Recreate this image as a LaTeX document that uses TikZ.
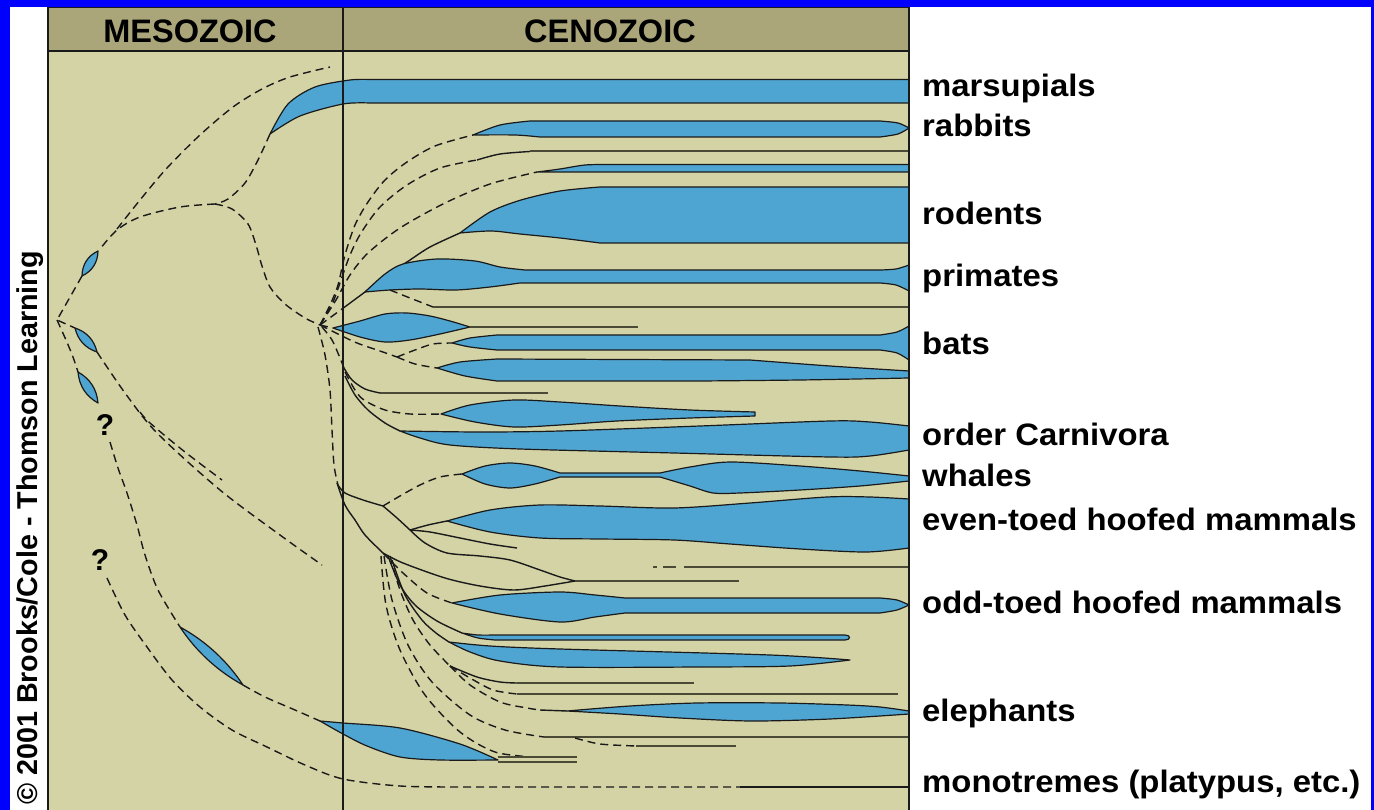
\documentclass[tikz,border=0pt]{standalone}
\usepackage{fontspec}
\setmainfont{Liberation Sans}
\newfontfamily\labfont{Liberation Sans}[FakeStretch=1.06]
\usetikzlibrary{calc}
\definecolor{bord}{HTML}{0000FF}
\definecolor{bodyc}{HTML}{D4D3A6}
\definecolor{headc}{HTML}{AAA679}
\definecolor{bluec}{HTML}{4EA5D2}
\definecolor{linec}{HTML}{1A1A1A}
\definecolor{grayc}{HTML}{4A4A36}
\newcommand{\lensAB}[3]{\path[bl] (#1) .. controls ($(#1)!0.33!(#2)!#3!90:(#2)$) and ($(#1)!0.67!(#2)!#3!90:(#2)$) .. (#2) .. controls ($(#1)!0.67!(#2)!#3!-90:(#2)$) and ($(#1)!0.33!(#2)!#3!-90:(#2)$) .. (#1) -- cycle;}
\begin{document}
\begin{tikzpicture}[x=1pt,y=-1pt,
 ln/.style={draw=linec, line width=1.4pt, line join=round},
 dsh/.style={draw=linec, line width=1.4pt, dash pattern=on 8pt off 5pt},
 bl/.style={fill=bluec, draw=linec, line width=1.2pt, line join=round},
 gl/.style={draw=grayc, line width=2pt},
 lab/.style={anchor=base west, inner sep=0pt, text=black, font=\labfont\bfseries\fontsize{31}{31}\selectfont},
 hd/.style={anchor=base, inner sep=0pt, text=black, font=\bfseries\fontsize{32.5}{33}\selectfont},
 qm/.style={inner sep=0pt, text=black, font=\bfseries\fontsize{30}{30}\selectfont}]
\useasboundingbox (0,0) rectangle (1374,810);
\fill[bord] (0,0) rectangle (1374,810);
\fill[white] (10,7) rectangle (1371,810);
\fill[bodyc] (48,51) rectangle (909,810);
\fill[headc] (48,7.5) rectangle (909,51);

% ---------- Mesozoic ----------
\draw[dsh] plot[smooth] coordinates {(270,134) (258,160) (245,183) (228,199) (215,204)};
\draw[dsh] plot[smooth] coordinates {(215,204) (180,207) (140,217) (117,230) (100,249)};
\draw[dsh] plot[smooth] coordinates {(117,229) (140,200) (167,168) (200,135) (233,107) (262,89) (290,77) (330,67)};
\draw[dsh] plot[smooth] coordinates {(215,204) (232,209) (248,224) (256,245) (262,266) (270,287) (285,304) (305,318) (320,325)};
\draw[dsh] (82,276) -- (57,320) -- (75,328);
\draw[dsh] plot[smooth] coordinates {(57,320) (66,340) (73,357) (78,372)};
\draw[dsh] plot[smooth] coordinates {(97,352) (125,393) (157,433) (220,490) (280,535) (322,565)};
\draw[dsh] plot[smooth] coordinates {(140,412) (150,423) (185,452) (222,480)};
\draw[dsh] plot[smooth] coordinates {(110,442) (118,468) (127,493) (137,525) (145,555) (158,590) (180,627)};
\draw[dsh] plot[smooth] coordinates {(243,685) (265,697) (295,710) (320,721)};
\draw[dsh] plot[smooth] coordinates {(107,578) (125,615) (147,647) (172,680) (200,707) (232,730) (267,747) (305,765) (343,779) (400,786) (460,787)} -- (740,787);
\draw[ln] (740,787) -- (909,787);
\lensAB{98,251}{82,276}{6pt}
\lensAB{75,328}{97,352}{6pt}
\lensAB{78,372}{98,403}{6.5pt}
\lensAB{180,627}{243,685}{7pt}
\node[qm] (q1) at (105,425) {?};
\node[qm] (q2) at (100,560) {?};

% marsupials
\path[bl] plot[smooth] coordinates {(270,134) (288,104) (315,87) (350,80) (370,79.5)} -- (909,79.5) -- (909,103) -- (370,103) -- plot[smooth] coordinates {(370,103) (343,104) (300,116) (270,134)} -- cycle;

% ---------- Cenozoic upper ----------
\draw[dsh] plot[smooth] coordinates {(320,325) (330,305) (338,285) (345,255) (355,225) (368,202) (385,180) (407,162) (435,146) (473,135)};
\draw[dsh] plot[smooth] coordinates {(320,325) (333,302) (341,280) (350,255) (361,233) (380,207) (407,185) (440,168) (477,160)};
\draw[dsh] plot[smooth] coordinates {(320,325) (336,300) (350,275) (368,253) (400,228) (445,203) (490,184) (537,172)};
% rabbits
\path[bl] plot[smooth] coordinates {(473,135) (500,125) (530,121)} -- (880,121) -- plot[smooth] coordinates {(880,121) (898,123) (909,128)} -- plot[smooth] coordinates {(909,128) (898,134) (880,137)} -- (540,137) -- plot[smooth] coordinates {(540,137) (515,135) (473,135)} -- cycle;
% line 2
\draw[ln] plot[smooth] coordinates {(477,160) (500,154) (530,151.5)};
\draw[gl] (530,151.5) -- (909,151.5);
% line 3
\path[bl] plot[smooth] coordinates {(537,172) (560,169) (585,165) (610,164.5)} -- (909,164.5) -- (909,172) -- (537,172) -- cycle;
% rodents
\draw[ln] plot[smooth] coordinates {(365,292) (385,276) (407,262) (430,247) (460,233)};
\path[bl] plot[smooth] coordinates {(460,233) (490,212) (521,200) (560,191) (600,187)} -- (909,187) -- (909,243) -- (600,243) -- plot[smooth] coordinates {(600,243) (560,238) (520,234) (491,231) (460,233)} -- cycle;
% primates
\draw[dsh] (320,325) -- (342,309);
\draw[ln] (342,309) -- (365,292);
\path[bl] plot[smooth] coordinates {(365,292) (385,274) (403,264) (437,259) (475,261) (500,267) (525,270)} -- (880,270) -- plot[smooth] coordinates {(880,270) (896,269) (909,265)} -- (909,291) -- plot[smooth] coordinates {(909,291) (896,285) (880,283)} -- (520,283) -- plot[smooth] coordinates {(520,283) (490,287) (456,290) (420,289) (390,290) (365,292)} -- cycle;
% line 307
\draw[dsh] plot[smooth] coordinates {(390,290) (410,298) (433,307)};
\draw[gl] (433,307) -- (909,307);
% lens L1
\draw[dsh] (320,325) -- (333,328);
\path[bl] plot[smooth] coordinates {(333,328) (360,321) (385,314) (407,313) (430,316) (450,321) (470,327)} -- plot[smooth] coordinates {(470,327) (440,334) (410,340) (385,342) (360,337) (333,328)} -- cycle;
\draw[gl] (470,327) -- (638,327);
% bats and L2
\coordinate (jb) at (397,357);
\draw[dsh] plot[smooth] coordinates {(320,325) (340,335) (357,343) (380,351) (397,357)};
\draw[dsh] plot[smooth] coordinates {(397,357) (415,350) (433,344) (452,343)};
\draw[dsh] plot[smooth] coordinates {(397,357) (415,364) (437,368)};
\path[bl] plot[smooth] coordinates {(452,343) (470,338) (497,335)} -- (880,335) -- plot[smooth] coordinates {(880,335) (897,332) (909,326)} -- (909,360) -- plot[smooth] coordinates {(909,360) (897,353) (880,350)} -- (497,350) -- plot[smooth] coordinates {(497,350) (470,347) (452,343)} -- cycle;
\path[bl] plot[smooth] coordinates {(437,368) (460,362) (497,359)} -- (750,360) -- plot[smooth] coordinates {(750,360) (830,366) (909,371)} -- (909,378) -- plot[smooth] coordinates {(909,378) (800,380) (700,381)} -- (497,381) -- plot[smooth] coordinates {(497,381) (465,376) (437,368)} -- cycle;

% ---------- Cenozoic middle ----------
\draw[dsh] plot[smooth] coordinates {(318,327) (325,355) (330,390) (332,430) (334,465) (338,485)};
\draw[ln] plot[smooth] coordinates {(338,485) (345,493) (363,500) (383,506)};
\draw[dsh] plot[smooth] coordinates {(322,327) (332,340) (340,358) (344,368)};
\draw[ln] plot[smooth] coordinates {(344,368) (352,380) (365,389) (380,393)};
\draw[gl] (380,393) -- (548,393);
\draw[dsh] plot[smooth] coordinates {(345,372) (355,390) (364,400) (385,410) (410,414) (441,414)};
\draw[ln] plot[smooth] coordinates {(345,376) (355,395) (368,410) (385,423) (400,431)};
% L3
\path[bl] plot[smooth] coordinates {(441,414) (470,405) (514,400) (560,402) (620,406) (690,410) (755,412)} -- (755,416) -- plot[smooth] coordinates {(755,416) (690,418) (617,421) (560,425) (514,427) (475,422) (441,414)} -- cycle;
% Carnivora
\path[bl] plot[smooth] coordinates {(400,431) (480,432) (560,431) (700,426) (830,421) (870,422) (909,426)} -- (909,450) -- plot[smooth] coordinates {(909,450) (870,456) (830,457) (674,453) (520,449) (450,445) (420,438) (400,431)} -- cycle;
% whales
\coordinate (j1) at (383,506);
\draw[dsh] plot[smooth] coordinates {(383,506) (400,496) (420,485) (440,477) (462,474)};
\path[bl] plot[smooth] coordinates {(462,474) (485,466) (510,463) (535,466) (560,473)} -- (660,473) -- plot[smooth] coordinates {(660,473) (690,467) (730,462) (800,466) (860,471) (909,476)} -- (909,481) -- plot[smooth] coordinates {(909,481) (860,486) (800,490) (740,493) (713,493) (690,486) (660,477)} -- (560,477) -- plot[smooth] coordinates {(560,477) (535,484) (510,488) (485,484) (462,474)} -- cycle;
% even-toed
\coordinate (j2) at (410,530);
\draw[ln] plot[smooth] coordinates {(383,506) (397,518) (410,530)};
\draw[ln] plot[smooth] coordinates {(410,530) (428,525) (447,521)};
\draw[ln] plot[smooth] coordinates {(410,530) (430,532) (460,538) (490,544) (517,548)};
\draw[ln] plot[smooth] coordinates {(410,530) (425,543) (447,553) (480,556) (510,560) (540,570) (560,577) (575,581)};
\path[bl] plot[smooth] coordinates {(447,521) (490,510) (540,505) (600,506) (674,508) (750,503) (827,497) (870,497) (909,499)} -- (909,548) -- plot[smooth] coordinates {(909,548) (866,552) (800,549) (730,544) (674,540) (600,539) (540,538) (490,532) (447,521)} -- cycle;

% ---------- Cenozoic lower ----------
\coordinate (j3) at (383,553);
\draw[ln] plot[smooth] coordinates {(337,483) (345,505) (355,520) (365,535) (383,553)};
\draw[ln] plot[smooth] coordinates {(383,553) (403,563) (445,578) (480,586) (514,590) (545,586) (575,581)};
\draw[gl] (575,581) -- (739,581);
\draw[gl] (653,567) -- (657,567) (663,567) -- (676,567) (684,567) -- (909,567);
% odd-toed
\draw[dsh] plot[smooth] coordinates {(383,553) (403,573) (427,593) (452,603)};
\path[bl] plot[smooth] coordinates {(452,603) (500,595) (560,592) (595,595) (625,598)} -- (880,598) -- plot[smooth] coordinates {(880,598) (897,600) (909,605)} -- plot[smooth] coordinates {(909,605) (897,610) (880,613)} -- (625,613) -- plot[smooth] coordinates {(625,613) (595,617) (560,622) (500,614) (452,603)} -- cycle;
% thin lenses
\draw[ln] plot[smooth] coordinates {(388,556) (400,585) (415,605) (437,621) (462,633)};
\path[bl] plot[smooth] coordinates {(462,633) (478,635) (495,635)} -- (845,635) .. controls (851,635) and (851,640) .. (845,640) -- (495,640) -- plot[smooth] coordinates {(495,640) (478,638) (462,633)} -- cycle;
\draw[ln] plot[smooth] coordinates {(392,560) (405,595) (422,620) (436,633) (449,642)};
\path[bl] plot[smooth] coordinates {(449,642) (490,646) (560,649) (770,655) (850,660)} -- plot[smooth] coordinates {(850,660) (790,666) (700,667) (560,667) (500,661) (470,652) (449,642)} -- cycle;
% fan
\coordinate (j4) at (450,666);
\draw[dsh] plot[smooth] coordinates {(390,556) (400,590) (413,620) (430,645) (450,666)};
\draw[ln] plot[smooth] coordinates {(450,666) (477,677) (500,682) (517,683)};
\draw[gl] (517,683) -- (694,683);
\draw[dsh] plot[smooth] coordinates {(450,666) (470,678) (493,690) (517,694)};
\draw[gl] (517,694) -- (898,694);
\draw[dsh] plot[smooth] coordinates {(450,666) (470,685) (500,702) (527,708) (540,710)};
\draw[ln] (540,710) -- (567,711);
\draw[dsh] plot[smooth] coordinates {(384,556) (392,600) (408,645) (432,682) (470,715) (505,730) (544,737)};
\draw[gl] (544,737) -- (909,737);
\draw[dsh] plot[smooth] coordinates {(575,738) (600,744) (636,746)};
\draw[gl] (636,746) -- (736,746);
\draw[dsh] plot[smooth] coordinates {(381,556) (386,605) (400,650) (425,695) (460,732) (495,752) (533,757)};
% elephants
\path[bl] plot[smooth] coordinates {(567,711) (630,706) (697,703) (780,703) (847,705) (880,707) (909,711)} -- (909,714) -- plot[smooth] coordinates {(909,714) (830,719) (751,721) (680,718) (620,714) (567,711)} -- cycle;
% proboscidean-like band
\path[bl] plot[smooth] coordinates {(320,721) (343,723) (400,728) (460,744) (498,760)} -- plot[smooth] coordinates {(498,760) (440,760) (400,757) (367,746) (343,734) (320,721)} -- cycle;
\draw[gl] (498,757) -- (577,757) (498,761.5) -- (577,761.5);

% ---------- frame ----------
\draw[linec, line width=1.5pt] (48,810) -- (48,7.5) -- (909,7.5) -- (909,810);
\draw[linec, line width=1.5pt] (48,51) -- (909,51);
\draw[linec, line width=1.5pt] (343,7.5) -- (343,810);
\node[hd] (meso) at (190,43) {MESOZOIC};
\node[hd] (ceno) at (610,43) {CENOZOIC};

% ---------- labels ----------
\node[lab] (l1) at (922,97) {marsupials};
\node[lab] (l2) at (922,137) {rabbits};
\node[lab] (l3) at (922,225) {rodents};
\node[lab] (l4) at (922,287) {primates};
\node[lab] (l5) at (922,355) {bats};
\node[lab] (l6) at (922,445) {order Carnivora};
\node[lab] (l7) at (922,486) {whales};
\node[lab] (l8) at (922,530) {even-toed hoofed mammals};
\node[lab] (l9) at (922,613) {odd-toed hoofed mammals};
\node[lab] (l10) at (922,721) {elephants};
\node[lab] (l11) at (922,792) {monotremes (platypus, etc.)};
\node[anchor=base west, inner sep=0pt, rotate=90, text=black, font=\bfseries\fontsize{28.7}{29}\selectfont] (copy) at (37,805) {© 2001 Brooks/Cole - Thomson Learning};
\end{tikzpicture}
\end{document}
